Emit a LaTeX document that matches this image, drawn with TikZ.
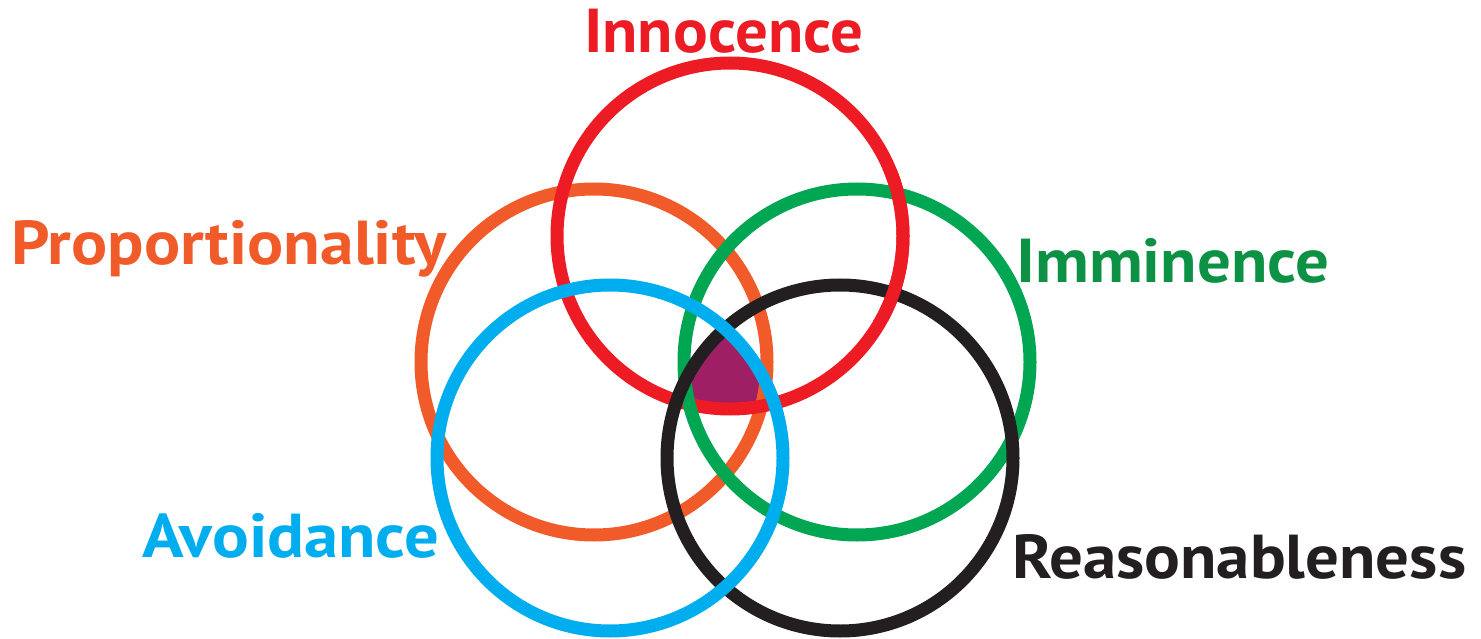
\documentclass[tikz,border=0pt]{standalone}
\usepackage{fontspec}
\setmainfont{PT Sans}
\usepackage{graphicx}
\definecolor{cred}{RGB}{237,28,36}
\definecolor{corange}{RGB}{241,90,41}
\definecolor{cgreen}{RGB}{0,166,81}
\definecolor{cgreentext}{RGB}{13,146,69}
\definecolor{cblue}{RGB}{0,174,239}
\definecolor{cblack}{RGB}{35,31,32}
\definecolor{cpurple}{RGB}{158,31,99}
\newcommand{\fitw}[2]{\resizebox{#1}{\height}{#2}}
\begin{document}
\begin{tikzpicture}[x=1pt,y=-1pt,
  ring/.style={line width=13pt},
  lab/.style={anchor=base west, inner sep=0pt, font=\fontsize{62}{62}\selectfont\bfseries}]
\useasboundingbox (0,0) rectangle (1481,639);
\coordinate (cR) at (730,236);
\coordinate (cO) at (594,362);
\coordinate (cG) at (857,362);
\coordinate (cB) at (610,458);
\coordinate (cK) at (840,458);
\begin{scope}
  \clip (cR) circle[radius=173pt];
  \clip (cO) circle[radius=173pt];
  \clip (cG) circle[radius=173pt];
  \clip (cB) circle[radius=173pt];
  \clip (cK) circle[radius=173pt];
  \fill[cpurple] (0,0) rectangle (1481,639);
\end{scope}
\draw[ring, corange] (cO) circle[radius=173pt];
\draw[ring, cred] (cR) circle[radius=173pt];
\draw[ring, cgreen] (cG) circle[radius=173pt];
\draw[ring, cblack] (cK) circle[radius=173pt];
% red passes over green and black on its right side
\begin{scope}
  \clip (860,170) rectangle (930,320);
  \draw[ring, cred] (cR) circle[radius=173pt];
\end{scope}
\draw[ring, cblue] (cB) circle[radius=173pt];
\node[lab, text=cred] (tI) at (584,53) {\fitw{279pt}{Innocence}};
\node[lab, text=corange] (tP) at (11,265) {\fitw{435pt}{Proportionality}};
\node[lab, text=cgreentext] (tM) at (1016,283) {\fitw{313pt}{Imminence}};
\node[lab, text=cblue] (tA) at (142,557) {\fitw{297pt}{Avoidance}};
\node[lab, text=cblack] (tS) at (1012,578) {\fitw{454pt}{Reasonableness}};
\end{tikzpicture}
\end{document}
